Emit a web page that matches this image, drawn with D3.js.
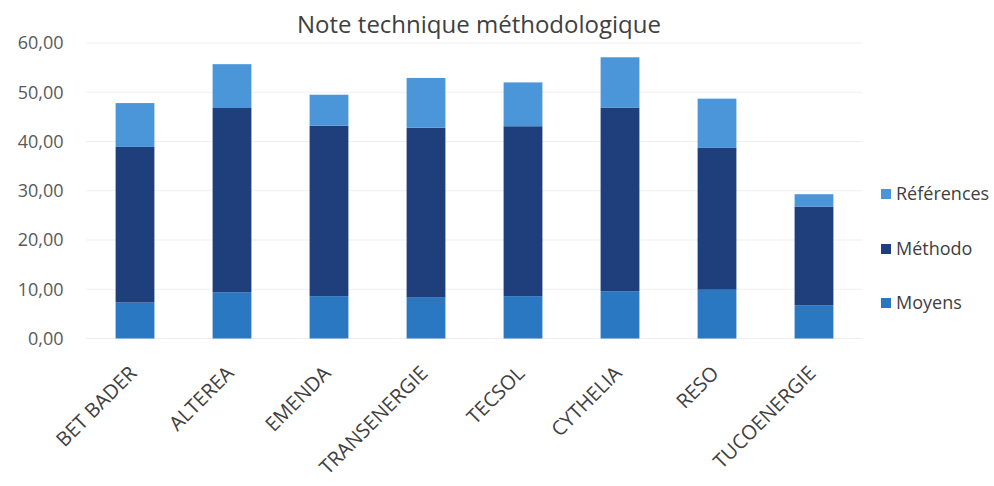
<!DOCTYPE html>
<html><head><meta charset="utf-8">
<script src="https://cdn.jsdelivr.net/npm/d3@7"></script>
<style>body{margin:0;background:#fff}svg{display:block}</style>
</head><body>
<svg id="c" width="994" height="486"></svg>
<script>
const categories = ["BET BADER","ALTEREA","EMENDA","TRANSENERGIE","TECSOL","CYTHELIA","RESO","TUCOENERGIE"];
const seriesNames = ["Moyens","Méthodo","Références"];
const moyens     = [7.3, 9.4, 8.6, 8.3, 8.6, 9.6, 9.9, 6.7];
const methodo    = [31.6, 37.4, 34.6, 34.5, 34.5, 37.3, 28.8, 20.1];
const references = [8.9, 8.9, 6.3, 10.1, 8.9, 10.2, 10.0, 2.5];
const yTicks = [0,10,20,30,40,50,60];
const colors = {"Moyens":"#2b78c2","Méthodo":"#1f3e7c","Références":"#4a96d8"};

const svg = d3.select("#c");
const font = "'Open Sans', sans-serif";
const m = {left:86.5, right:862.5, top:43, bottom:338.5};

const x = d3.scaleBand().domain(categories).range([m.left, m.right]).paddingInner(0.6).paddingOuter(0.3);
const y = d3.scaleLinear().domain([0,60]).range([m.bottom, m.top]);

// gridlines
svg.append("g").selectAll("line").data(yTicks).join("line")
  .attr("x1", m.left).attr("x2", m.right)
  .attr("y1", d=>y(d)).attr("y2", d=>y(d))
  .attr("stroke", "#efefef").attr("stroke-width", 1);

// y axis
const yAxis = svg.append("g").attr("transform", `translate(${m.left},0)`)
  .call(d3.axisLeft(y).tickValues(yTicks).tickSize(0).tickPadding(23)
    .tickFormat(d => d3.format(".2f")(d).replace(".", ",")));
yAxis.select(".domain").remove();
yAxis.selectAll("text").attr("font-family", font).attr("font-size", 18).attr("fill", "#595959");

// stacked data
const table = categories.map((c,i)=>({cat:c, "Moyens":moyens[i], "Méthodo":methodo[i], "Références":references[i]}));
const stack = d3.stack().keys(seriesNames)(table);

svg.append("g").selectAll("g").data(stack).join("g")
  .attr("fill", d=>colors[d.key])
  .selectAll("rect").data(d=>d).join("rect")
  .attr("x", d=>x(d.data.cat))
  .attr("width", x.bandwidth())
  .attr("y", d=>y(d[1]))
  .attr("height", d=>y(d[0])-y(d[1]));

// x axis labels
const xAxis = svg.append("g").attr("transform", `translate(0,${m.bottom})`)
  .call(d3.axisBottom(x).tickSize(0).tickPadding(0));
xAxis.select(".domain").remove();
xAxis.selectAll("text")
  .attr("font-family", font).attr("font-size", 20).attr("fill", "#404040")
  .attr("text-anchor", "end")
  .attr("dy", null).attr("y", 0)
  .attr("transform", "translate(3,36) rotate(-45)");

// title
svg.append("text").attr("x", 479).attr("y", 33).attr("text-anchor", "middle")
  .attr("font-family", font).attr("font-size", 24).attr("fill", "#404040")
  .text("Note technique méthodologique");

// legend
const legendOrder = ["Références","Méthodo","Moyens"];
const legendY = [194, 249, 303];
const lg = svg.append("g").selectAll("g").data(legendOrder).join("g")
  .attr("transform", (d,i)=>`translate(881,${legendY[i]})`);
lg.append("rect").attr("x",0).attr("y",-5).attr("width",10).attr("height",10).attr("fill", d=>colors[d]);
lg.append("text").attr("x",15).attr("y",0).attr("dy","0.35em")
  .attr("font-family", font).attr("font-size", 18).attr("fill", "#404040").text(d=>d);
</script>
</body></html>
